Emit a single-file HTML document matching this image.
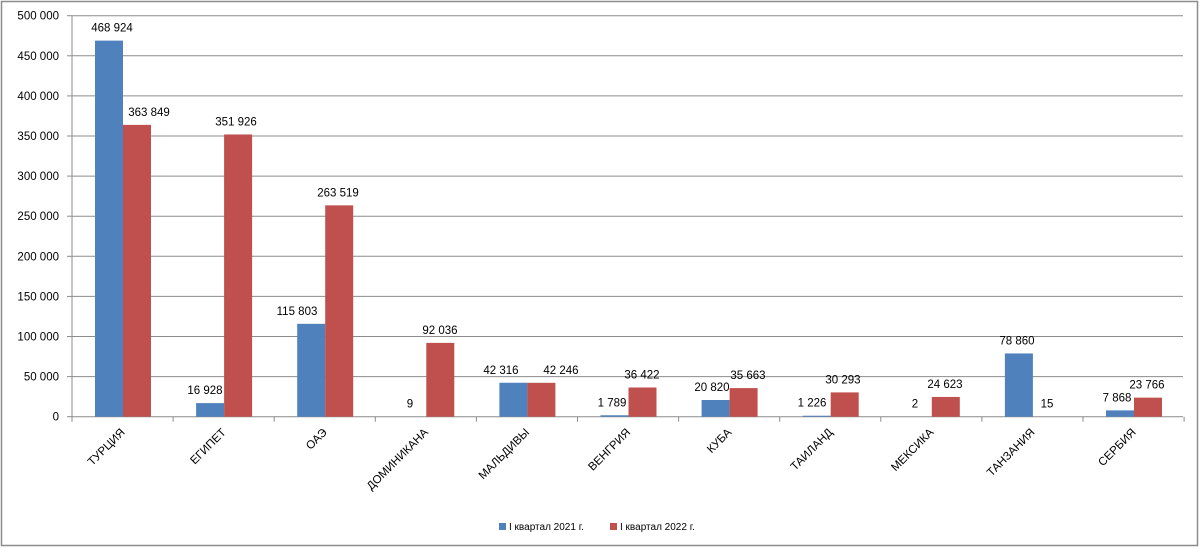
<!DOCTYPE html>
<html><head><meta charset="utf-8"><style>
html,body{margin:0;padding:0;background:#fff;}
svg{display:block;font-family:"Liberation Sans",sans-serif;}
</style></head><body>
<svg id="s" width="1200" height="548" xmlns="http://www.w3.org/2000/svg">
<rect x="1.5" y="1.5" width="1196" height="544" fill="#fff" stroke="#8c8c8c" stroke-width="1.5"/>
</svg>
<script>
const s=document.getElementById('s');let h='';
const y0=416.7,k=401/500000,L=72,W=101.1;
for(let i=0;i<=10;i++){const v=i*50000,y=(y0-v*k).toFixed(1);
 if(i>0)h+=`<line x1="${L}" x2="1183" y1="${y}" y2="${y}" stroke="#8c8c8c" stroke-width="1"/>`;
 h+=`<line x1="67" x2="${L}" y1="${y}" y2="${y}" stroke="#8c8c8c"/>`;
 h+=`<text x="59" y="${(+y+4).toFixed(1)}" font-size="11.5" text-anchor="end" fill="#000">${i==0?'0':(v/1000)+' 000'}</text>`;}
h+=`<line x1="${L}" x2="${L}" y1="16" y2="${y0}" stroke="#8c8c8c"/>`;
h+=`<line x1="${L}" x2="1183" y1="${y0}" y2="${y0}" stroke="#8c8c8c"/>`;
for(let i=0;i<=11;i++){const x=L+i*W;h+=`<line x1="${x}" x2="${x}" y1="${y0}" y2="${y0+5}" stroke="#8c8c8c"/>`;}
const d=[["ТУРЦИЯ",468924,363849,"468 924","363 849",112,149],["ЕГИПЕТ",16928,351926,"16 928","351 926",205,236],["ОАЭ",115803,263519,"115 803","263 519",297,338],["ДОМИНИКАНА",9,92036,"9","92 036",410,440],["МАЛЬДИВЫ",42316,42246,"42 316","42 246",501,561],["ВЕНГРИЯ",1789,36422,"1 789","36 422",612,642],["КУБА",20820,35663,"20 820","35 663",712,748],["ТАИЛАНД",1226,30293,"1 226","30 293",812,843],["МЕКСИКА",2,24623,"2","24 623",915,945],["ТАНЗАНИЯ",78860,15,"78 860","15",1017,1047],["СЕРБИЯ",7868,23766,"7 868","23 766",1117,1147]];
d.forEach((r,i)=>{const c=L+i*W,bx=c+23;
 const hb=r[1]*k,hr=r[2]*k;
 h+=`<rect x="${bx}" y="${y0-hb}" width="28" height="${hb}" fill="#4f81bd"/>`;
 h+=`<rect x="${bx+28}" y="${y0-hr}" width="28" height="${hr}" fill="#c0504d"/>`;
 h+=`<text x="${r[5]}" y="${(y0-hb-9).toFixed(1)}" font-size="11.5" text-anchor="middle">${r[3]}</text>`;
 h+=`<text x="${r[6]}" y="${(y0-hr-9).toFixed(1)}" font-size="11.5" text-anchor="middle">${r[4]}</text>`;
 const ax=c+W/2+3,ay=433;
 h+=`<text x="${ax}" y="${ay}" font-size="11.5" text-anchor="end" transform="rotate(-45 ${ax} ${ay})">${r[0]}</text>`;});
h+=`<rect x="499" y="523" width="7" height="7" fill="#4f81bd"/><text x="509" y="530" font-size="10">I квартал 2021 г.</text>`;
h+=`<rect x="610" y="523" width="7" height="7" fill="#c0504d"/><text x="620" y="530" font-size="10">I квартал 2022 г.</text>`;
s.insertAdjacentHTML('beforeend',h);
</script>
</body></html>
